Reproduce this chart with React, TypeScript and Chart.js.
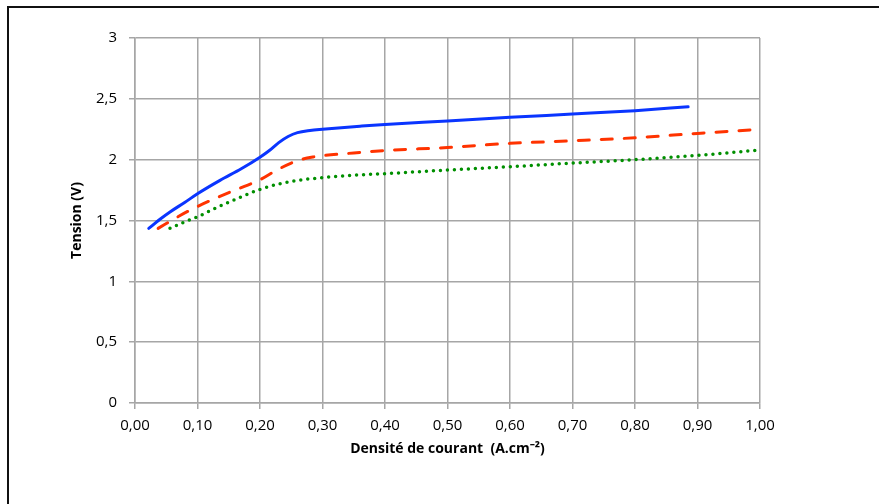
import React, { useEffect, useRef } from "react";
import { Chart, registerables } from "chart.js";

Chart.register(...registerables);

const blueX = [0.022, 0.04, 0.056, 0.08, 0.1, 0.136, 0.17, 0.2, 0.215, 0.23, 0.245, 0.26, 0.28, 0.3, 0.36, 0.4, 0.5, 0.6, 0.7, 0.8, 0.885];
const blueY = [1.435, 1.51, 1.57, 1.65, 1.72, 1.83, 1.925, 2.02, 2.075, 2.14, 2.19, 2.222, 2.24, 2.25, 2.275, 2.29, 2.318, 2.348, 2.375, 2.403, 2.435];

const redX = [0.037, 0.07, 0.1, 0.13, 0.16, 0.2, 0.227, 0.25, 0.265, 0.285, 0.3, 0.35, 0.4, 0.5, 0.6, 0.7, 0.8, 0.9, 1.0];
const redY = [1.435, 1.535, 1.615, 1.685, 1.75, 1.835, 1.915, 1.972, 2.0, 2.022, 2.033, 2.055, 2.075, 2.1, 2.134, 2.155, 2.18, 2.216, 2.25];

const greenX = [0.056, 0.08, 0.1, 0.13, 0.15, 0.17, 0.2, 0.23, 0.26, 0.3, 0.35, 0.4, 0.5, 0.6, 0.7, 0.8, 0.9, 1.0];
const greenY = [1.436, 1.49, 1.53, 1.605, 1.65, 1.695, 1.756, 1.8, 1.83, 1.852, 1.872, 1.885, 1.915, 1.942, 1.972, 2.0, 2.035, 2.08];

const xTitle = "Densité de courant  (A.cm⁻²)";
const yTitle = "Tension (V)";

const toPts = (xs: number[], ys: number[]) => xs.map((x, i) => ({ x, y: ys[i] }));

export default function App() {
  const ref = useRef<HTMLCanvasElement | null>(null);
  useEffect(() => {
    if (!ref.current) return;
    const grid = "#a6a6a6";
    const font = { family: "'Open Sans', sans-serif", size: 15 };
    const chart = new Chart(ref.current, {
      type: "line",
      data: {
        datasets: [
          {
            data: toPts(blueX, blueY),
            borderColor: "#0a35ff",
            borderWidth: 3,
            pointRadius: 0,
            cubicInterpolationMode: "monotone",
            borderCapStyle: "round",
          },
          {
            data: toPts(redX, redY),
            borderColor: "#ff3300",
            borderWidth: 3,
            pointRadius: 0,
            borderDash: [11, 12],
            borderCapStyle: "round",
            cubicInterpolationMode: "monotone",
          },
          {
            data: toPts(greenX, greenY),
            borderColor: "#008f00",
            borderWidth: 3.5,
            pointRadius: 0,
            borderDash: [0, 7],
            borderCapStyle: "round",
            cubicInterpolationMode: "monotone",
          },
        ],
      },
      options: {
        animation: false,
        responsive: false,
        events: [],
        layout: { padding: { left: 60, right: 119, top: 38, bottom: 40 } },
        plugins: { legend: { display: false }, tooltip: { enabled: false } },
        scales: {
          x: {
            type: "linear",
            min: 0,
            max: 1,
            afterFit: (s: any) => { s.height = 61; },
            grid: { color: grid, lineWidth: 1.5, tickLength: 6, drawTicks: true },
            border: { color: grid, width: 1.5 },
            ticks: {
              stepSize: 0.1,
              padding: 8,
              color: "#000",
              font,
              maxRotation: 0,
              callback: (v: any) => Number(v).toFixed(2).replace(".", ","),
            },
            title: {
              display: true,
              text: xTitle,
              color: "#000",
              font: { family: "'Open Sans', sans-serif", size: 14, weight: "bold" },
              padding: { top: 0, bottom: 7 },
            },
          },
          y: {
            type: "linear",
            min: 0,
            max: 3,
            afterFit: (s: any) => { s.width = 75; },
            grid: { color: grid, lineWidth: 1.5, tickLength: 6, drawTicks: true },
            border: { color: grid, width: 1.5 },
            ticks: {
              stepSize: 0.5,
              padding: 12,
              color: "#000",
              font,
              callback: (v: any) => String(Number(v)).replace(".", ","),
            },
            title: {
              display: true,
              text: yTitle,
              color: "#000",
              font: { family: "'Open Sans', sans-serif", size: 14, weight: "bold" },
              padding: { top: 9, bottom: 0 },
            },
          },
        },
      },
    } as any);
    return () => chart.destroy();
  }, []);
  return (
    <>
      <div
        style={{
          position: "absolute",
          left: 7,
          top: 6,
          width: 872,
          height: 498,
          boxSizing: "border-box",
          borderTop: "2px solid #111",
          borderLeft: "2px solid #111",
          background: "#fff",
        }}
      />
      <canvas
        ref={ref}
        width={879}
        height={504}
        style={{ position: "absolute", left: 0, top: 0, width: 879, height: 504 }}
      />
    </>
  );
}
